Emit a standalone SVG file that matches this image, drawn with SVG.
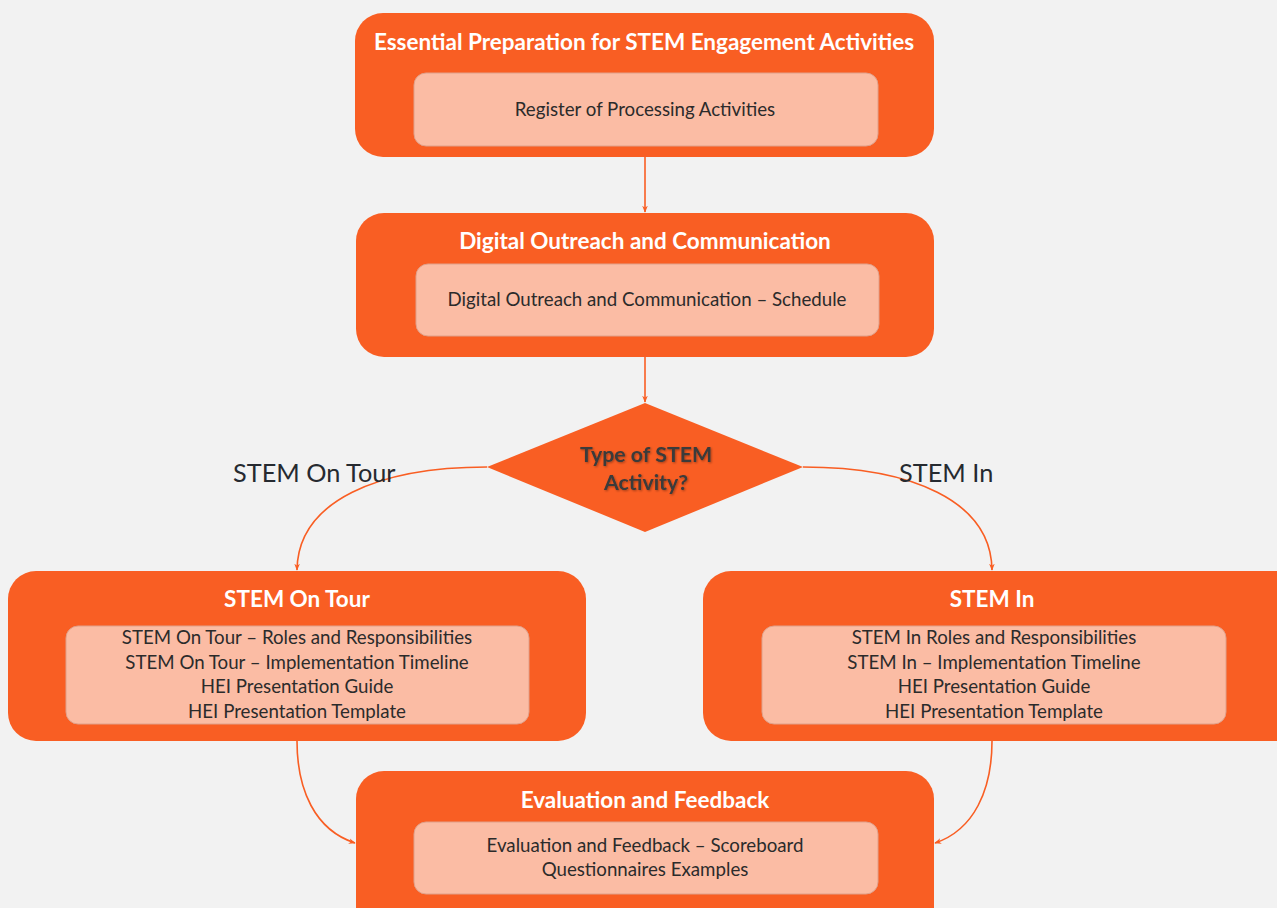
<svg xmlns="http://www.w3.org/2000/svg" width="1277" height="908" viewBox="0 0 1277 908">
  <defs>
    <marker id="arrow" viewBox="0 0 10 10" refX="9" refY="5" markerWidth="7" markerHeight="7" markerUnits="userSpaceOnUse" orient="auto">
      <path d="M0,1 L10,5 L0,9 L3,5 Z" fill="#F95E23"/>
    </marker>
    <filter id="soft" x="-10%" y="-30%" width="120%" height="160%">
      <feDropShadow dx="1" dy="1" stdDeviation="1" flood-color="#000" flood-opacity="0.35"/>
    </filter>
  </defs>
  <style>
    .outer { fill: #F95E23; }
    .inner { fill: #FBBCA4; stroke: #E0A08A; stroke-width: 1; }
    .title { font-family: Lato, "Open Sans", sans-serif; font-weight: bold; font-size: 22.5px; fill: #FFFFFF; text-anchor: middle; }
    .item { font-family: Lato, "Open Sans", sans-serif; font-size: 18.7px; fill: #2B2B2B; text-anchor: middle; }
    .label { font-family: Lato, "Open Sans", sans-serif; font-size: 25.3px; fill: #262A30; }
    .decision { font-family: Lato, "Open Sans", sans-serif; font-weight: bold; font-size: 21.3px; fill: #3A3A3A; text-anchor: middle; }
    .conn { fill: none; stroke: #F95E23; stroke-width: 1.6; marker-end: url(#arrow); }
  </style>

  <rect x="0" y="0" width="1277" height="908" fill="#F2F2F2"/>

  <!-- connectors -->
  <g id="connectors">
    <path class="conn" d="M645,157 L645,212"/>
    <path class="conn" d="M645,357 L645,402"/>
    <path class="conn" d="M487,467 C380,467 298,500 297,570"/>
    <path class="conn" d="M803,467 C910,467 991,500 992,570"/>
    <path class="conn" d="M297,741 C297,790 315,830 355,843"/>
    <path class="conn" d="M992,741 C992,790 974,830 935,843"/>
  </g>

  <!-- branch labels -->
  <text class="label" x="233" y="482">STEM On Tour</text>
  <text class="label" x="899" y="482">STEM In</text>

  <g id="node-preparation">
    <rect class="outer" x="355" y="13" width="579" height="144" rx="28"/>
    <rect class="inner" x="414" y="73" width="464" height="73" rx="12"/>
    <text class="title" x="644" y="50">Essential Preparation for STEM Engagement Activities</text>
    <text class="item" x="645" y="116">Register of Processing Activities</text>
  </g>

  <g id="node-outreach">
    <rect class="outer" x="356" y="213" width="578" height="144" rx="28"/>
    <rect class="inner" x="416" y="264" width="463" height="72" rx="12"/>
    <text class="title" x="645" y="249">Digital Outreach and Communication</text>
    <text class="item" x="647" y="306">Digital Outreach and Communication – Schedule</text>
  </g>

  <g id="node-decision">
    <polygon class="outer" points="645,403 803,467 645,532 487,467"/>
    <text class="decision" x="646" y="462" filter="url(#soft)">Type of STEM</text>
    <text class="decision" x="646" y="490" filter="url(#soft)">Activity?</text>
  </g>

  <g id="node-on-tour">
    <rect class="outer" x="8" y="571" width="578" height="170" rx="28"/>
    <rect class="inner" x="66" y="626" width="463" height="98" rx="12"/>
    <text class="title" x="297" y="607">STEM On Tour</text>
    <text class="item" x="297" y="644">STEM On Tour – Roles and Responsibilities</text>
    <text class="item" x="297" y="669">STEM On Tour – Implementation Timeline</text>
    <text class="item" x="297" y="693">HEI Presentation Guide</text>
    <text class="item" x="297" y="718">HEI Presentation Template</text>
  </g>

  <g id="node-stem-in">
    <rect class="outer" x="703" y="571" width="600" height="170" rx="28"/>
    <rect class="inner" x="762" y="626" width="464" height="98" rx="12"/>
    <text class="title" x="992" y="607">STEM In</text>
    <text class="item" x="994" y="644">STEM In Roles and Responsibilities</text>
    <text class="item" x="994" y="669">STEM In – Implementation Timeline</text>
    <text class="item" x="994" y="693">HEI Presentation Guide</text>
    <text class="item" x="994" y="718">HEI Presentation Template</text>
  </g>

  <g id="node-evaluation">
    <rect class="outer" x="356" y="771" width="578" height="170" rx="28"/>
    <rect class="inner" x="414" y="822" width="464" height="72" rx="12"/>
    <text class="title" x="645" y="808">Evaluation and Feedback</text>
    <text class="item" x="645" y="852">Evaluation and Feedback – Scoreboard</text>
    <text class="item" x="645" y="876">Questionnaires Examples</text>
  </g>
</svg>
